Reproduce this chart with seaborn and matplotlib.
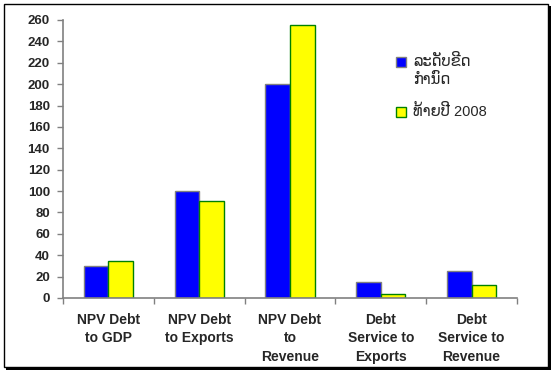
import matplotlib
matplotlib.use("Agg")
import matplotlib.pyplot as plt
from matplotlib.patches import Rectangle
import seaborn as sns
import pandas as pd
import numpy as np

categories = ["NPV Debt\nto GDP", "NPV Debt\nto Exports", "NPV Debt\nto\nRevenue",
              "Debt\nService to\nExports", "Debt\nService to\nRevenue"]
threshold = [30, 100, 200, 15, 25]
end_2008 = [35, 91, 255, 4, 12]
series_names = ["ລະດັບຂີດ\nກຳນົດ", "ທ້າຍປີ 2008"]
y_ticks = list(range(0, 261, 20))

colors = ["#0000FF", "#FFFF00"]
edges = ["#808080", "#008000"]

df = pd.DataFrame({
    "category": categories * 2,
    "value": threshold + end_2008,
    "series": [series_names[0]] * len(categories) + [series_names[1]] * len(categories),
})

sns.set_style("white")
plt.rcParams["font.family"] = ["Liberation Sans", "DejaVu Sans"]

W, H = 556, 371
fig = plt.figure(figsize=(W / 100, H / 100), dpi=100)
ax = fig.add_axes([63 / W, 1 - 298 / H, (517 - 63) / W, (298 - 20) / H])

sns.barplot(data=df, x="category", y="value", hue="series",
            palette=colors, width=0.54, gap=0,
            saturation=1, ax=ax, legend=False)

# edge colours per series
for i, p in enumerate(ax.patches):
    p.set_edgecolor(edges[0] if i < len(categories) else edges[1])
    p.set_linewidth(1.0)

ax.set_ylim(0, 260)
ax.set_xlim(-0.5, len(categories) - 0.5)
ax.set_yticks(y_ticks)
ax.set_xlabel("")
ax.set_ylabel("")

for s in ["top", "right"]:
    ax.spines[s].set_visible(False)
for s in ["left", "bottom"]:
    ax.spines[s].set_color("#808080")
    ax.spines[s].set_linewidth(1.2)

ax.tick_params(axis="y", which="major", left=True, length=4, width=1, color="#808080",
               labelsize=9.5, pad=5.5)
ax.tick_params(axis="x", which="major", length=0, labelsize=10, pad=11)
ax.set_xticks(np.arange(-0.5, len(categories), 1.0), minor=True)
ax.tick_params(axis="x", which="minor", bottom=True, length=4, width=1, color="#808080")
for lbl in ax.get_yticklabels() + ax.get_xticklabels():
    lbl.set_fontweight("bold")
for lbl in ax.get_xticklabels():
    lbl.set_verticalalignment("top")
    lbl.set_linespacing(1.38)

# legend: square swatches aligned with the first text line
legend_rows = [(57, 62), (107, 112)]
for (sq_top, text_y), name, fc, ec in zip(legend_rows, series_names, colors, edges):
    fig.patches.append(Rectangle((396 / W, 1 - (sq_top + 10) / H), 10 / W, 10 / H,
                                 transform=fig.transFigure, facecolor=fc,
                                 edgecolor=ec, linewidth=1.0))
    fig.text(413 / W, 1 - (text_y - 8) / H, name, ha="left", va="top",
             fontsize=10.5, linespacing=1.35,
             family=["Liberation Sans", "DejaVu Sans"])

# outer frame with drop shadow
fig.patches.append(Rectangle((6 / W, 1 - 370 / H), 545 / W, 364 / H,
                             transform=fig.transFigure, facecolor="black",
                             edgecolor="none", zorder=-2))
fig.patches.append(Rectangle((3.5 / W, 1 - 366.5 / H), 544 / W, 363 / H,
                             transform=fig.transFigure, facecolor="white",
                             edgecolor="black", linewidth=1, zorder=-1))
ax.set_facecolor("none")

fig.savefig("out.png", dpi=100)
